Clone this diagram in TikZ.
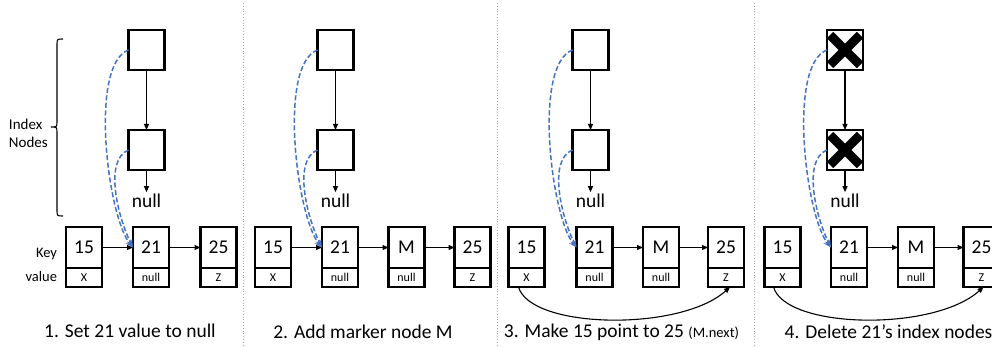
\documentclass[tikz,border=0pt]{standalone}
\usepackage{fontspec}
\setmainfont{Carlito}
\usetikzlibrary{positioning,arrows.meta}
\definecolor{linkblue}{RGB}{68,114,196}

\begin{document}
\begin{tikzpicture}
	[x=1pt,y=-1pt,
	 every node/.style={font=\fontsize{19.5}{22}\selectfont,inner sep=0pt,outer sep=0pt},
	 keybox/.style={draw,line width=2.2pt,minimum width=36pt,minimum height=41pt},
	 valbox/.style={draw,line width=2.2pt,minimum width=36pt,minimum height=19pt,font=\fontsize{12}{14}\selectfont},
	 idxbox/.style={draw,line width=2.2pt,minimum width=36pt,minimum height=40pt},
	 nextarrow/.style={-{Triangle[length=6pt,width=5pt]},line width=1.1pt},
	 idxlink/.style={-{Stealth[length=8pt,width=6pt]},dash pattern=on 5pt off 2.5pt,line width=1.5pt,linkblue},
	 xmark/.style={line width=9pt},
	 smalltext/.style={font=\fontsize{14.5}{17}\selectfont}]
	\useasboundingbox (0,0) rectangle (992,347);
	
	% panel separators
	\foreach \x in {243,497,754}
	\draw[gray!70,dotted,line width=0.8pt] (\x,3) -- (\x,347);
	
	% key / value nodes
	\foreach \n/\x/\k/\v in {a15/84/15/X,a21/151/21/null,a25/218.5/25/Z,
		b15/273/15/X,b21/340/21/null,bM/406.5/M/null,b25/472.5/25/Z,
		c15/526.5/15/X,c21/594.5/21/null,cM/661/M/null,c25/726/25/Z,
		d15/782.5/15/X,d21/849/21/null,dM/916/M/null,d25/981.5/25/Z}
	{
		\node[keybox] (\n) at (\x,247.5) {\k};
		\node[valbox,below=0pt of \n] (\n-v) {\v};
	}
	
	\foreach \from/\to in {a15/a21,a21/a25,b15/b21,b21/bM,bM/b25,c21/cM,cM/c25,d21/dM,dM/d25}
	\draw[nextarrow] (\from) -- (\to);
	
	% index nodes
	\foreach \p/\x in {a/146.5,b/335.5,c/590.5,d/845}
	{
		\node[idxbox] (\p-i1) at (\x,50) {};
		\node[idxbox] (\p-i2) at (\x,150) {};
		\node[inner sep=2pt] (\p-null) at (\x,201) {null};
		\draw[nextarrow] (\p-i1) -- (\p-i2);
		\draw[nextarrow] (\p-i2) -- (\p-null);
		\draw[idxlink] (\p-i1.west) .. controls +(-40,15) and +(-25,-30) .. (\p21.west);
		\draw[idxlink] (\p-i2.west) .. controls +(-25,10) and +(-15,-30) .. (\p21.west);
	}
	
	% deleted index nodes
	\foreach \i in {d-i1,d-i2}
	{
		\draw[xmark] ([shift={(3,5)}]\i.north west) -- ([shift={(-3,-5)}]\i.south east);
		\draw[xmark] ([shift={(-3,5)}]\i.north east) -- ([shift={(3,-5)}]\i.south west);
	}
	
	\draw[nextarrow] ([xshift=-8pt]c15-v.south) .. controls +(12,42) and +(-50,45) .. ([xshift=4pt]c25-v.south);
	\draw[nextarrow] ([xshift=-9pt]d15-v.south) .. controls +(12,42) and +(-50,45) .. ([xshift=2pt]d25-v.south);
	
	% labels
	\node[smalltext,anchor=east] (keylbl) at (57,254) {Key};
	\node[smalltext,anchor=east] (vallbl) at (57,277) {value};
	\node[font=\fontsize{15}{18}\selectfont,align=left,anchor=west] (idxlbl) at (9,133) {Index\\Nodes};
	\draw[line width=1.1pt] (63,39) .. controls (57,39) .. (57,45) -- (57,121)
		.. controls (57,127) .. (51,127) .. controls (57,127) .. (57,133) -- (57,210)
		.. controls (57,216) .. (63,216);
	
	\node (cap1) at (130,331) {1. Set 21 value to null};
	\node (cap2) at (363,332) {2. Add marker node M};
	\node (cap3) at (621.5,332) {3. Make 15 point to 25 {\fontsize{14.5}{17}\selectfont(M.next)}};
	\node (cap4) at (888.5,332) {4. Delete 21’s index nodes};
\end{tikzpicture}
\end{document}
